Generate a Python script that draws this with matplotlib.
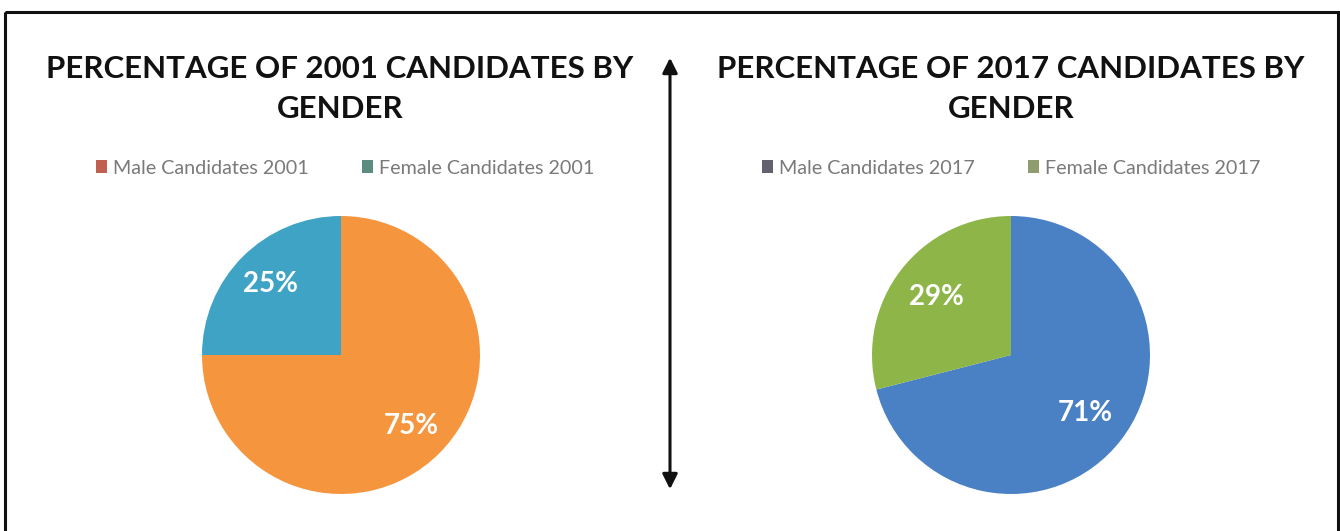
import matplotlib
matplotlib.use("Agg")
import matplotlib.pyplot as plt
from matplotlib.patches import Patch, Rectangle, FancyArrowPatch

# ---- data ----
labels_2001 = ["Male Candidates 2001", "Female Candidates 2001"]
values_2001 = [75, 25]
labels_2017 = ["Male Candidates 2017", "Female Candidates 2017"]
values_2017 = [71, 29]
titles = ["PERCENTAGE OF 2001 CANDIDATES BY\nGENDER",
          "PERCENTAGE OF 2017 CANDIDATES BY\nGENDER"]

# ---- style ----
pie_colors_2001 = ["#F5963F", "#3FA3C6"]
pie_colors_2017 = ["#4A80C4", "#8DB547"]
legend_colors_2001 = ["#C0604E", "#5B8C80"]
legend_colors_2017 = ["#62626E", "#8E9C6E"]
FONT = "Lato"

W, H = 1340, 531
fig = plt.figure(figsize=(W / 100, H / 100), dpi=100)
fig.patch.set_facecolor("white")

def px_axes(cx, cy, r):
    return fig.add_axes([(cx - r) / W, (H - cy - r) / H, 2 * r / W, 2 * r / H])

def draw_pie(ax, values, colors, pctdist):
    wedges, texts, autotexts = ax.pie(
        values, colors=colors, startangle=90, counterclock=False,
        autopct=lambda p: f"{p:.0f}%", pctdistance=pctdist,
        wedgeprops=dict(linewidth=0),
        textprops=dict(color="white", fontsize=20, fontweight="bold", family=FONT))
    ax.set_xlim(-1, 1)
    ax.set_ylim(-1, 1)
    ax.set_aspect("equal")
    ax.axis("off")
    return wedges

ax1 = px_axes(341, 355, 139)
draw_pie(ax1, values_2001, pie_colors_2001, 0.72)
ax2 = px_axes(1011, 355, 139)
draw_pie(ax2, values_2017, pie_colors_2017, 0.68)

# titles
for x, t in [(340, titles[0]), (1011, titles[1])]:
    fig.text(x / W, 1 - 89 / H, t, ha="center", va="center", fontsize=22.5,
             fontweight="bold", family=FONT, color="#111111", linespacing=1.55)

# legends
for cx, labs, cols in [(345, labels_2001, legend_colors_2001),
                       (1011, labels_2017, legend_colors_2017)]:
    handles = [Patch(facecolor=c, edgecolor="none") for c in cols]
    fig.legend(handles, labs, loc="center", bbox_to_anchor=(cx / W, 1 - 168 / H),
               ncol=2, frameon=False, handlelength=0.55,
               handleheight=0.6, handletextpad=0.3, columnspacing=2.7,
               prop=dict(family=FONT, size=14.2), labelcolor="#7A7A7A")

# overlay for border and arrow
ov = fig.add_axes([0, 0, 1, 1], zorder=-1)
ov.set_xlim(0, W)
ov.set_ylim(H, 0)
ov.axis("off")
ov.add_patch(Rectangle((4.5, 11.5), 1333, 540, fill=False, edgecolor="#111111", linewidth=2.2))
ov.add_patch(FancyArrowPatch((670, 492), (670, 55), arrowstyle="<|-|>,head_length=0.9,head_width=0.45",
                             mutation_scale=10, color="#111111", linewidth=2.2))

fig.savefig("out.png", dpi=100, facecolor="white")
